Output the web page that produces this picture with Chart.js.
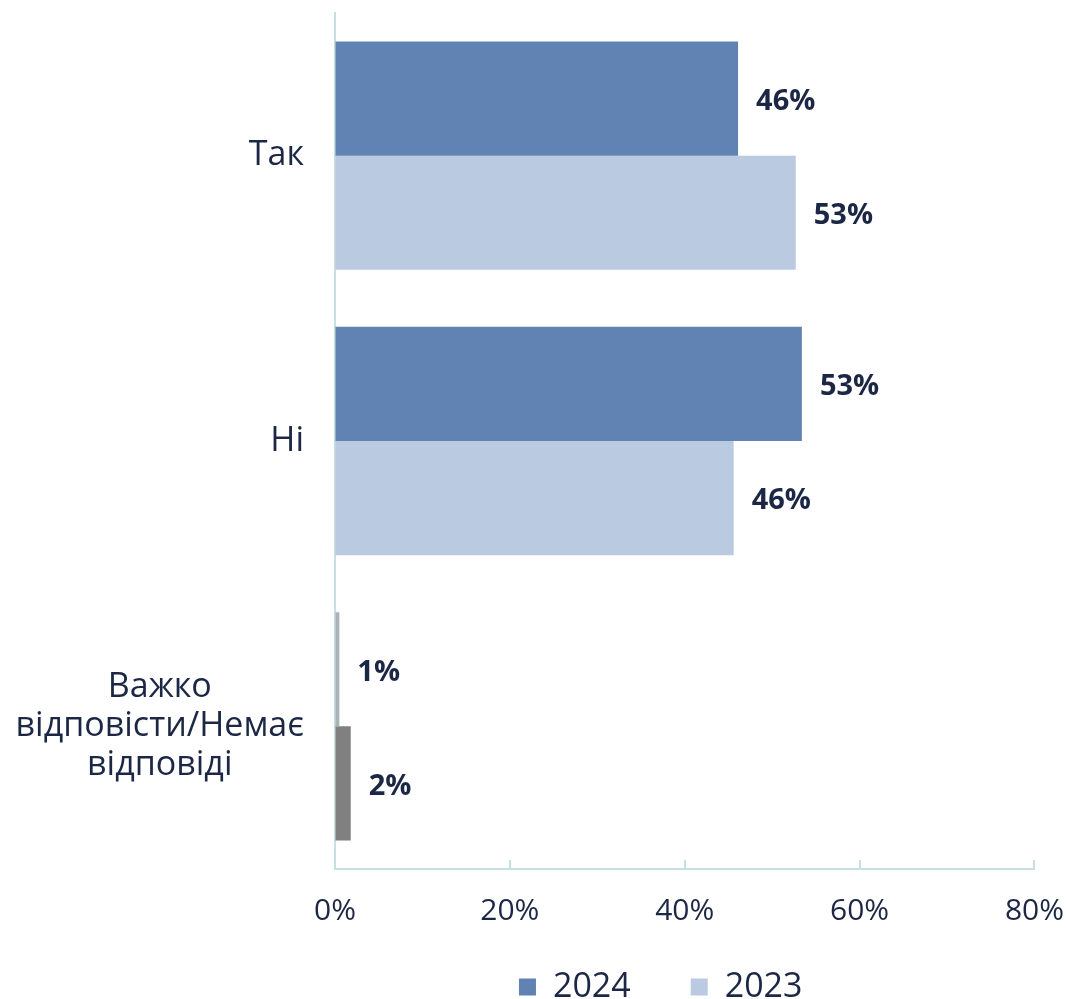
<!DOCTYPE html>
<html>
<head>
<meta charset="utf-8">
<script src="https://cdn.jsdelivr.net/npm/chart.js@4"></script>
<style>
  html, body { margin: 0; padding: 0; background: #fff; }
  #wrap { width: 1066px; height: 999px; }
</style>
</head>
<body>
<div id="wrap"><canvas id="chart"></canvas></div>
<script>
const categories = [['Так'], ['Ні'], ['Важко', 'відповісти/Немає', 'відповіді']];
const values2024 = [46.1, 53.4, 0.5];
const values2023 = [52.7, 45.6, 1.8];
const xTicks = [0, 20, 40, 60, 80];

const colors2024 = ['#6083B3', '#6083B3', '#A9B4B8'];
const colors2023 = ['#BACAE0', '#BACAE0', '#808080'];
const textColor = '#1B2745';
const axisColor = '#C6DFE1';
const fontFamily = "'Open Sans', sans-serif";

// category labels: block right-aligned to the axis, each line centred inside the block
const yLabelPlugin = {
    id: 'yLabels',
    afterDraw(chart) {
        const ctx = chart.ctx;
        const yScale = chart.scales.y;
        ctx.save();
        ctx.font = `34px ${fontFamily}`;
        ctx.fillStyle = textColor;
        ctx.textAlign = 'center';
        ctx.textBaseline = 'middle';
        const right = chart.chartArea.left - 31;
        const lineH = 39;
        categories.forEach((lines, i) => {
            const widest = Math.max(...lines.map(l => ctx.measureText(l).width));
            const cx = right - widest / 2;
            const y0 = yScale.getPixelForValue(i) - (lines.length - 1) * lineH / 2;
            lines.forEach((l, j) => ctx.fillText(l, cx, y0 + j * lineH));
        });
        ctx.restore();
    }
};

// small tick marks pointing up into the plot from the x axis
const innerTicksPlugin = {
    id: 'innerTicks',
    afterDraw(chart) {
        const ctx = chart.ctx;
        const xScale = chart.scales.x;
        const bottom = chart.chartArea.bottom;
        ctx.save();
        ctx.strokeStyle = axisColor;
        ctx.lineWidth = 2;
        xTicks.forEach(v => {
            const px = Math.round(xScale.getPixelForValue(v));
            ctx.beginPath();
            ctx.moveTo(px, bottom);
            ctx.lineTo(px, bottom - 9);
            ctx.stroke();
        });
        ctx.restore();
    }
};

// value labels right of each bar end
const valueLabelPlugin = {
    id: 'valueLabels',
    afterDatasetsDraw(chart) {
        const ctx = chart.ctx;
        ctx.save();
        ctx.font = `bold 29px ${fontFamily}`;
        ctx.fillStyle = textColor;
        ctx.textAlign = 'left';
        ctx.textBaseline = 'middle';
        chart.data.datasets.forEach((ds, di) => {
            chart.getDatasetMeta(di).data.forEach((el, i) => {
                ctx.fillText(Math.round(ds.data[i]) + '%', el.x + 18, el.y + 3);
            });
        });
        ctx.restore();
    }
};

// nudge the legend box a bit left and up, like in the original
const legendNudge = {
    id: 'legendNudge',
    afterLayout(chart) {
        const lg = chart.legend;
        if (!lg) return;
        lg.left -= 24; lg.right -= 24;
        lg.top -= 19;
    }
};

const ctx = document.getElementById('chart').getContext('2d');
new Chart(ctx, {
    type: 'bar',
    data: {
        labels: categories.map(c => c.join(' ')),
        datasets: [
            { label: '2024', data: values2024, backgroundColor: colors2024 },
            { label: '2023', data: values2023, backgroundColor: colors2023 }
        ]
    },
    options: {
        indexAxis: 'y',
        responsive: true,
        maintainAspectRatio: false,
        animation: false,
        layout: { padding: { top: 13, right: 0, left: 0, bottom: 0 } },
        datasets: { bar: { categoryPercentage: 0.8, barPercentage: 1.0 } },
        scales: {
            x: {
                min: 0,
                max: 80,
                afterBuildTicks: s => { s.ticks = xTicks.map(v => ({ value: v })); },
                grid: { drawOnChartArea: false, tickLength: 24, tickColor: 'rgba(0,0,0,0)' },
                border: { color: axisColor, width: 2 },
                ticks: {
                    padding: 2,
                    color: textColor,
                    font: { family: fontFamily, size: 30, lineHeight: 1.1 },
                    callback: v => v + '%'
                },
                afterFit: s => { s.height = 60; }
            },
            y: {
                grid: { display: false },
                border: { color: axisColor, width: 2 },
                ticks: { display: false },
                afterFit: s => { s.width = 335; }
            }
        },
        plugins: {
            legend: {
                position: 'bottom',
                fullSize: false,
                maxHeight: 70,
                labels: {
                    color: textColor,
                    font: { family: fontFamily, size: 34, lineHeight: 1 },
                    boxWidth: 17,
                    boxHeight: 17,
                    padding: 60
                }
            },
            tooltip: { enabled: false }
        }
    },
    plugins: [yLabelPlugin, innerTicksPlugin, valueLabelPlugin, legendNudge]
});
</script>
</body>
</html>
